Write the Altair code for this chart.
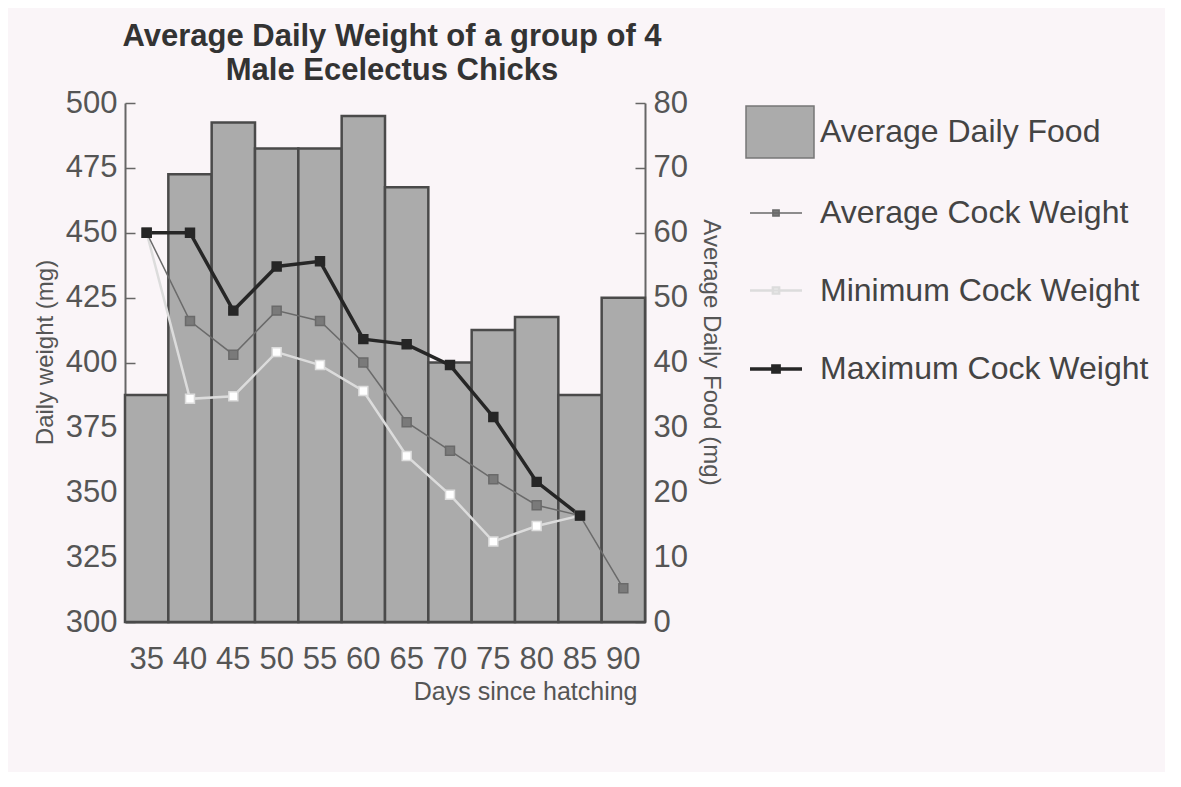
import altair as alt
import pandas as pd

days = [35, 40, 45, 50, 55, 60, 65, 70, 75, 80, 85, 90]
food = [35, 69, 77, 73, 73, 78, 67, 40, 45, 47, 35, 50]
avg_w = [450, 416, 403, 420, 416, 400, 377, 366, 355, 345, 341, 313]
min_w = [450, 386, 387, 404, 399, 389, 364, 349, 331, 337, 341, None]
max_w = [450, 450, 420, 437, 439, 409, 407, 399, 379, 354, 341, None]
series = ["Average Cock Weight", "Minimum Cock Weight", "Maximum Cock Weight"]
food_label = "Average Daily Food"
weight_ticks = [300, 325, 350, 375, 400, 425, 450, 475, 500]
food_ticks = [0, 10, 20, 30, 40, 50, 60, 70, 80]
title_lines = ["Average Daily Weight of a group of 4", "Male Ecelectus Chicks"]

FONT = "Liberation Sans"

bars_df = pd.DataFrame({"day": days, "food": food, "lab": food_label})
rows = []
for name, vals in [(series[1], min_w), (series[0], avg_w), (series[2], max_w)]:
    for d, v in zip(days, vals):
        if v is not None:
            rows.append({"day": d, "weight": v, "series": name})
lines_df = pd.DataFrame(rows)

x_axis = alt.Axis(
    orient="bottom", labelAngle=0, ticks=False, domainColor="#555", domainWidth=2,
    labelFontSize=31, labelFont=FONT, labelColor="#555", labelPadding=22,
    title="Days since hatching", titleFontSize=25, titleFont=FONT, titleFontWeight="normal",
    titleColor="#555", titleX=512, titleY=77, titleAlign="right", titleBaseline="alphabetic",
)
x_scale = alt.Scale(paddingInner=0, paddingOuter=0)

w_axis = alt.Axis(orient="left", values=weight_ticks, grid=False,
                  tickSize={"expr": "-10"}, tickColor="#666", tickWidth=1.5,
                  domainColor="#666", domainWidth=2,
                  labelFontSize=31, labelFont=FONT, labelColor="#555", labelPadding=18,
                  title="Daily weight (mg)", titleFontSize=24, titleFont=FONT,
                  titleFontWeight="normal", titleColor="#555", titleAngle=-90,
                  titleX=-80, titleY=249, titleAlign="center", titleBaseline="middle")
w_scale = alt.Scale(domain=[300, 500], nice=False, zero=False)

bars = alt.Chart(bars_df).mark_bar(stroke="#4a4a4a", strokeWidth=2.5).encode(
    x=alt.X("day:O", scale=x_scale, axis=x_axis),
    y=alt.Y("food:Q", scale=alt.Scale(domain=[0, 80], nice=False),
            axis=alt.Axis(orient="right", values=food_ticks, grid=False,
                          tickSize={"expr": "-10"}, tickColor="#666", tickWidth=1.5,
                          domainColor="#666", domainWidth=2,
                          labelFontSize=31, labelFont=FONT, labelColor="#555", labelPadding=18,
                          title="Average Daily Food (mg)", titleFontSize=24, titleFont=FONT,
                          titleFontWeight="normal", titleColor="#555", titleAngle=90,
                          titleX=65, titleY=249, titleAlign="center", titleBaseline="middle")),
    color=alt.Color("lab:N", scale=alt.Scale(domain=[food_label], range=["#ababab"]),
                    legend=alt.Legend(orient="none", legendX=620, legendY=-6, title=None,
                                      symbolType="M-1,-0.765H1V0.765H-1Z", symbolSize=4624,
                                      symbolStrokeColor="#777", symbolStrokeWidth=1.5,
                                      labelOffset=5, labelFontSize=32, labelFont=FONT,
                                      labelColor="#444", labelLimit=600)),
)

line_legend = alt.Legend(orient="none", legendX=623, legendY=83, title=None,
                         symbolType="M-1,0H1M-0.12,-0.12H0.12V0.12H-0.12Z", symbolSize=2704,
                         symbolStrokeWidth=2, labelOffset=16, rowPadding=34,
                         labelFontSize=32, labelFont=FONT, labelColor="#444", labelLimit=600)

stroke_scale = alt.Scale(domain=series, range=["#6a6a6a", "#dcdcdc", "#262626"])
fill_scale = alt.Scale(domain=series, range=["#7a7a7a", "#ffffff", "#262626"])

lines = alt.Chart(lines_df).mark_line().encode(
    x=alt.X("day:O", scale=x_scale, axis=x_axis),
    y=alt.Y("weight:Q", scale=w_scale, axis=w_axis),
    stroke=alt.Stroke("series:N", scale=stroke_scale, legend=line_legend),
    strokeWidth=alt.StrokeWidth("series:N", scale=alt.Scale(domain=series, range=[1.5, 3.5, 3.5]),
                                legend=None),
    detail="series:N",
)

pts = alt.Chart(lines_df).mark_point(shape="square", filled=True, size=80, strokeWidth=1.5,
                                     opacity=1).encode(
    x=alt.X("day:O", scale=x_scale, axis=x_axis),
    y=alt.Y("weight:Q", scale=w_scale, axis=w_axis),
    stroke=alt.Stroke("series:N", scale=stroke_scale, legend=line_legend),
    fill=alt.Fill("series:N", scale=fill_scale, legend=line_legend),
)

chart = alt.layer(bars, alt.layer(lines, pts)).resolve_scale(y="independent").properties(
    width=520, height=519,
    autosize=alt.AutoSizeParams(type="none"),
    padding={"left": 117, "top": 95, "right": 520, "bottom": 150},
    background="#faf5f8",
    title=alt.Title(title_lines, fontSize=31, font=FONT, fontWeight="bold", color="#333",
                    anchor="middle", offset=0, lineHeight=34, dx=7),
).configure_view(stroke=None)

chart.save("out.html", embed_options={"renderer": "svg", "actions": False})
